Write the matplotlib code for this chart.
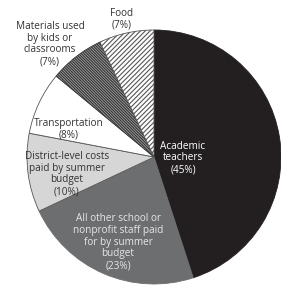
import matplotlib
matplotlib.use('Agg')
import matplotlib.pyplot as plt

# budget shares, clockwise from 12 o'clock
categories = ['Academic\nteachers',
              'All other school or\nnonprofit staff paid\nfor by summer\nbudget',
              'District-level costs\npaid by summer\nbudget',
              'Transportation',
              'Materials used\nby kids or\nclassrooms',
              'Food']
shares = [45, 23, 10, 8, 7, 7]

faces = ['#231f20', '#6d6e70', '#d6d6d6', '#ffffff', '#a0a0a0', '#ffffff']
edges = ['#231f20', '#6d6e70', '#555555', '#555555', '#333333', '#555555']
hatches = [None, None, None, None, '\\' * 12, '/' * 7]
text_colors = ['white', '#e6e6e6', '#333333', '#333333', '#333333', '#333333']

W, H = 281, 285
cx, cy, r = 154, 157, 127
# label centres in pixels
label_px = [(183, 158), (118, 242), (67, 174), (69, 129), (50, 44), (122, 19)]

plt.rcParams['font.family'] = ['Open Sans', 'DejaVu Sans']
plt.rcParams['hatch.linewidth'] = 0.8

fig = plt.figure(figsize=(W / 100, H / 100), dpi=100)
ax = fig.add_axes([0, 0, 1, 1])

wedges, _ = ax.pie(shares, startangle=90, counterclock=False, radius=1,
                   colors=faces, wedgeprops=dict(linewidth=0.6))
for w, ec, h in zip(wedges, edges, hatches):
    w.set_edgecolor(ec)
    if h:
        w.set_hatch(h)

ax.set_aspect('auto')
ax.set_xlim(-cx / r, (W - cx) / r)
ax.set_ylim(-(H - cy) / r, cy / r)
ax.axis('off')

for lab, s, (px, py), tc in zip(categories, shares, label_px, text_colors):
    ax.text((px - cx) / r, (cy - py) / r, f'{lab}\n({s}%)', ha='center', va='center',
            fontsize=7.2, color=tc, linespacing=1.1)

plt.savefig('out.png', dpi=100)
